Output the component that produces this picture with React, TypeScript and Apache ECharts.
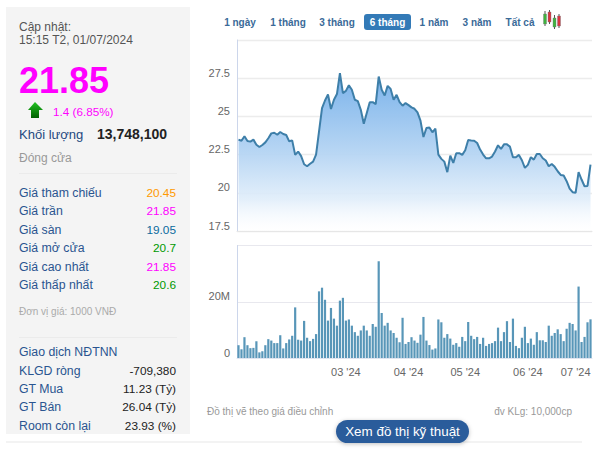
import React, { useEffect, useRef } from "react";
import * as echarts from "echarts";

const prices = [
  23.48, 23.41, 23.7, 23.39, 23.35, 23.48, 23.15, 23.0, 23.13, 23.3,
  23.57, 23.89, 23.93, 23.8, 23.98, 23.85, 23.78, 23.37, 23.43, 22.48,
  22.7, 22.4, 21.87, 21.74, 21.9, 22.04, 22.5, 24.02, 25.54, 26.04,
  26.43, 25.48, 26.09, 26.46, 27.83, 26.52, 26.67, 27.04, 26.74, 26.09,
  26.0, 25.43, 24.52, 25.22, 25.93, 25.93, 25.8, 27.61, 26.74, 26.37,
  27.0, 26.8, 26.09, 26.41, 25.93, 25.7, 25.87, 25.74, 25.59, 25.5,
  25.26, 24.72, 23.65, 24.24, 24.28, 23.96, 24.2, 22.5, 22.22, 22.04,
  21.35, 22.43, 21.96, 22.59, 22.59, 22.48, 22.78, 23.46, 23.43, 23.41,
  23.26, 22.83, 22.5, 22.26, 22.26, 22.37, 22.7, 23.11, 22.87, 23.17,
  23.17, 23.02, 22.33, 22.33, 22.48, 22.13, 21.63, 21.83, 22.33, 22.17,
  22.54, 22.54, 22.26, 22.11, 21.74, 21.89, 21.7, 21.41, 21.17, 21.13,
  20.76, 20.28, 20.04, 20.0, 21.35, 20.87, 20.43, 20.45, 21.85,
];

const volumesM = [
  4.55, 3.1, 7.4, 4.55, 3.5, 3.6, 6.0, 2.0, 2.4, 4.55,
  6.7, 6.2, 5.3, 5.3, 8.1, 3.4, 5.3, 6.6, 7.9, 18.0,
  6.5, 6.2, 13.2, 7.2, 6.0, 6.8, 8.5, 23.7, 25.0, 20.7,
  13.3, 17.8, 14.0, 11.5, 20.4, 21.4, 13.3, 13.7, 11.5, 9.2,
  7.9, 9.8, 11.5, 9.8, 7.9, 12.1, 11.1, 34.4, 16.0, 11.5,
  12.5, 9.8, 8.9, 7.2, 5.6, 14.3, 5.0, 5.7, 7.4, 6.2,
  5.4, 8.3, 14.6, 6.2, 4.6, 3.0, 3.4, 13.7, 12.7, 7.2,
  8.5, 6.9, 4.7, 5.3, 4.0, 7.5, 6.0, 12.8, 7.9, 6.7,
  7.5, 5.0, 7.2, 4.3, 5.0, 5.3, 6.0, 10.8, 6.0, 9.2,
  13.1, 5.7, 14.0, 4.3, 3.5, 7.2, 11.1, 5.3, 6.9, 4.7,
  9.2, 6.3, 6.3, 5.7, 11.5, 7.9, 8.9, 10.2, 8.5, 6.0,
  10.4, 12.5, 12.1, 9.8, 25.4, 5.7, 7.5, 12.7, 13.748,
];

const monthLabels = ["03 '24", "04 '24", "05 '24", "06 '24", "07 '24"];
const monthIndexes = [36, 57, 76, 97, 118];
const categories = prices.map((_, i) => {
  const m = monthIndexes.indexOf(i);
  return m >= 0 ? monthLabels[m] : "d" + i;
});

const priceRows = ["Giá tham chiếu", "Giá trần", "Giá sàn", "Giá mở cửa", "Giá cao nhất", "Giá thấp nhất"];
const priceValues = ["20.45", "21.85", "19.05", "20.7", "21.85", "20.6"];
const foreignRows = ["KLGD ròng", "GT Mua", "GT Bán", "Room còn lại"];
const foreignValues = ["-709,380", "11.23 (Tỷ)", "26.04 (Tỷ)", "23.93 (%)"];
const rangeTabs = ["1 ngày", "1 tháng", "3 tháng", "6 tháng", "1 năm", "3 năm", "Tất cả"];

const FONT = '"Liberation Sans", Arial, sans-serif';
const priceColors = ["#ff9900", "#ff00ff", "#0b6a9e", "#009900", "#ff00ff", "#009900"];
const priceRowY = [193, 211, 230, 248, 267, 285];
const foreignRowY = [371, 389, 407, 426];
const tabX = [240, 288, 337, 387.5, 434, 477, 520];

function txt(text: string, x: number, y: number, fontSize: number, fill: string, extra: any = {}) {
  return {
    type: "text",
    x,
    y,
    silent: true,
    style: {
      text,
      fill,
      fontSize,
      fontFamily: FONT,
      fontWeight: extra.weight ?? "normal",
      align: extra.align ?? "left",
      verticalAlign: "middle",
    },
  };
}

function candle(x: number, top: number, bottom: number, bodyTop: number, bodyH: number, fill: string) {
  return [
    { type: "line", silent: true, shape: { x1: x, y1: top, x2: x, y2: bottom }, style: { stroke: "#555", lineWidth: 1 } },
    { type: "rect", silent: true, shape: { x: x - 1.5, y: bodyTop, width: 3, height: bodyH }, style: { fill, stroke: "#777", lineWidth: 0.4 } },
  ];
}

function buildGraphics() {
  const els: any[] = [];
  const BLUE = "#2a5590";
  els.push({ type: "rect", silent: true, shape: { x: 6, y: 7, width: 184, height: 427 }, style: { fill: "#f4f4f4" } });
  els.push({ type: "rect", silent: true, shape: { x: 6, y: 441.5, width: 576, height: 1 }, style: { fill: "#e8e8e8" } });
  els.push(txt("Cập nhật:", 19, 27, 12, "#555"));
  els.push(txt("15:15 T2, 01/07/2024", 19, 40, 12, "#555"));
  els.push(txt("21.85", 19, 80, 36, "#ff00ff", { weight: "bold" }));
  els.push({
    type: "polygon",
    silent: true,
    shape: { points: [[35, 102], [43, 110], [39, 110], [39, 118], [31, 118], [31, 110], [28, 110]] },
    style: {
      fill: new echarts.graphic.LinearGradient(0, 0, 0, 1, [
        { offset: 0, color: "#22c322" },
        { offset: 1, color: "#005f00" },
      ]),
    },
  });
  els.push(txt("1.4 (6.85%)", 53, 111, 11.7, "#ff00ff"));
  els.push(txt("Khối lượng", 19, 134, 13, "#24497f"));
  els.push(txt("13,748,100", 97, 133.5, 14, "#222", { weight: "bold" }));
  els.push(txt("Đóng cửa", 19, 158, 12, "#999"));
  els.push({ type: "rect", silent: true, shape: { x: 19, y: 173, width: 158, height: 1 }, style: { fill: "#ebebeb" } });
  priceRows.forEach((r, i) => {
    els.push(txt(r, 19, priceRowY[i], 12.3, BLUE));
    els.push(txt(priceValues[i], 176, priceRowY[i], 11.8, priceColors[i], { align: "right" }));
  });
  els.push(txt("Đơn vị giá: 1000 VNĐ", 19, 311, 10, "#aaa"));
  els.push({ type: "rect", silent: true, shape: { x: 19, y: 337, width: 158, height: 1 }, style: { fill: "#ebebeb" } });
  els.push(txt("Giao dịch NĐTNN", 19, 352, 12.3, BLUE));
  foreignRows.forEach((r, i) => {
    els.push(txt(r, 19, foreignRowY[i], 12.3, BLUE));
    els.push(txt(foreignValues[i], 176, foreignRowY[i], 11.8, "#222", { align: "right" }));
  });

  els.push({ type: "rect", silent: true, shape: { x: 364, y: 14, width: 47, height: 16, r: 3 }, style: { fill: "#337ab7" } });
  rangeTabs.forEach((t, i) => {
    els.push(txt(t, tabX[i], 22, 10, i === 3 ? "#fff" : "#3a6a98", { align: "center", weight: "bold" }));
  });
  els.push(...candle(545, 11, 26, 14, 10, "#3fb33f"));
  els.push(...candle(549.5, 10, 24, 12, 10, "#d9333f"));
  els.push(...candle(554.5, 15, 29, 18, 9, "#3fb33f"));
  els.push(...candle(559, 14, 28, 16, 10, "#d9333f"));

  els.push(txt("Đồ thị vẽ theo giá điều chỉnh", 207, 411, 10, "#999"));
  els.push(txt("đv KLg: 10,000cp", 572, 411, 10, "#999", { align: "right" }));
  els.push({
    type: "rect",
    silent: true,
    shape: { x: 336, y: 420, width: 133, height: 23, r: 11.5 },
    style: { fill: "#2b5c9b", shadowBlur: 4, shadowColor: "rgba(0,0,0,0.25)", shadowOffsetY: 1 },
  });
  els.push(txt("Xem đồ thị kỹ thuật", 402.5, 431.5, 13.4, "#fff", { align: "center" }));
  return els;
}

export default function App() {
  const ref = useRef<HTMLDivElement>(null);
  useEffect(() => {
    const chart = echarts.init(ref.current!, undefined, { renderer: "svg" });
    const axisText = { color: "#666", fontSize: 11, fontFamily: FONT };
    chart.setOption({
      animation: false,
      backgroundColor: "#fff",
      grid: [
        { left: 237, width: 355, top: 40, height: 191 },
        { left: 237, width: 355, top: 245.5, height: 112.5 },
      ],
      xAxis: [
        {
          type: "category",
          gridIndex: 0,
          data: categories,
          axisLine: { lineStyle: { color: "#e6e6e6", width: 1 } },
          axisTick: { show: false },
          axisLabel: { show: false },
          splitLine: { show: false },
        },
        {
          type: "category",
          gridIndex: 1,
          data: categories,
          axisLine: { lineStyle: { color: "#dfe4f0", width: 1 } },
          axisTick: {
            alignWithLabel: true,
            length: 9,
            lineStyle: { color: "#d8dfee" },
            interval: (i: number) => monthIndexes.includes(i),
          },
          axisLabel: {
            ...axisText,
            margin: 8,
            interval: (i: number) => monthIndexes.includes(i),
            alignMaxLabel: "right",
            showMaxLabel: true,
            hideOverlap: false,
          },
        },
      ],
      yAxis: [
        {
          type: "value",
          gridIndex: 0,
          min: 17.5,
          max: 30,
          interval: 2.5,
          axisLine: { show: true, lineStyle: { color: "#ccd6eb" } },
          axisTick: { show: false },
          axisLabel: {
            ...axisText,
            margin: 7,
            verticalAlign: "bottom",
            lineHeight: 11,
            formatter: (v: number) => (v === 30 ? "" : String(v)),
          },
          splitLine: { lineStyle: { color: "#ececec", width: 1.4 } },
        },
        {
          type: "value",
          gridIndex: 1,
          min: 0,
          max: 40,
          interval: 20,
          axisLine: { show: true, lineStyle: { color: "#ccd6eb" } },
          axisTick: { show: false },
          axisLabel: {
            ...axisText,
            margin: 7,
            verticalAlign: "bottom",
            lineHeight: 11,
            formatter: (v: number) => (v === 40 ? "" : v === 0 ? "0" : v + "M"),
          },
          splitLine: { lineStyle: { color: "#e8e8ee", width: 1.2 } },
        },
      ],
      series: [
        {
          type: "line",
          xAxisIndex: 0,
          yAxisIndex: 0,
          data: prices,
          symbol: "none",
          smooth: false,
          lineStyle: { color: "#3e7fa9", width: 2 },
          areaStyle: {
            origin: "start",
            opacity: 1,
            color: new echarts.graphic.LinearGradient(0, 0, 0, 1, [
              { offset: 0, color: "rgba(118,176,234,0.98)" },
              { offset: 0.5, color: "rgba(180,212,243,0.95)" },
              { offset: 0.8, color: "rgba(224,237,250,0.9)" },
              { offset: 1, color: "rgba(255,255,255,0.3)" },
            ]),
          },
        },
        {
          type: "bar",
          xAxisIndex: 1,
          yAxisIndex: 1,
          data: volumesM,
          barWidth: 2.2,
          itemStyle: { color: "#5896b8" },
        },
      ],
      graphic: { elements: buildGraphics() },
    });
    return () => chart.dispose();
  }, []);
  return <div ref={ref} style={{ position: "fixed", left: 0, top: 0, width: 600, height: 454 }} />;
}
